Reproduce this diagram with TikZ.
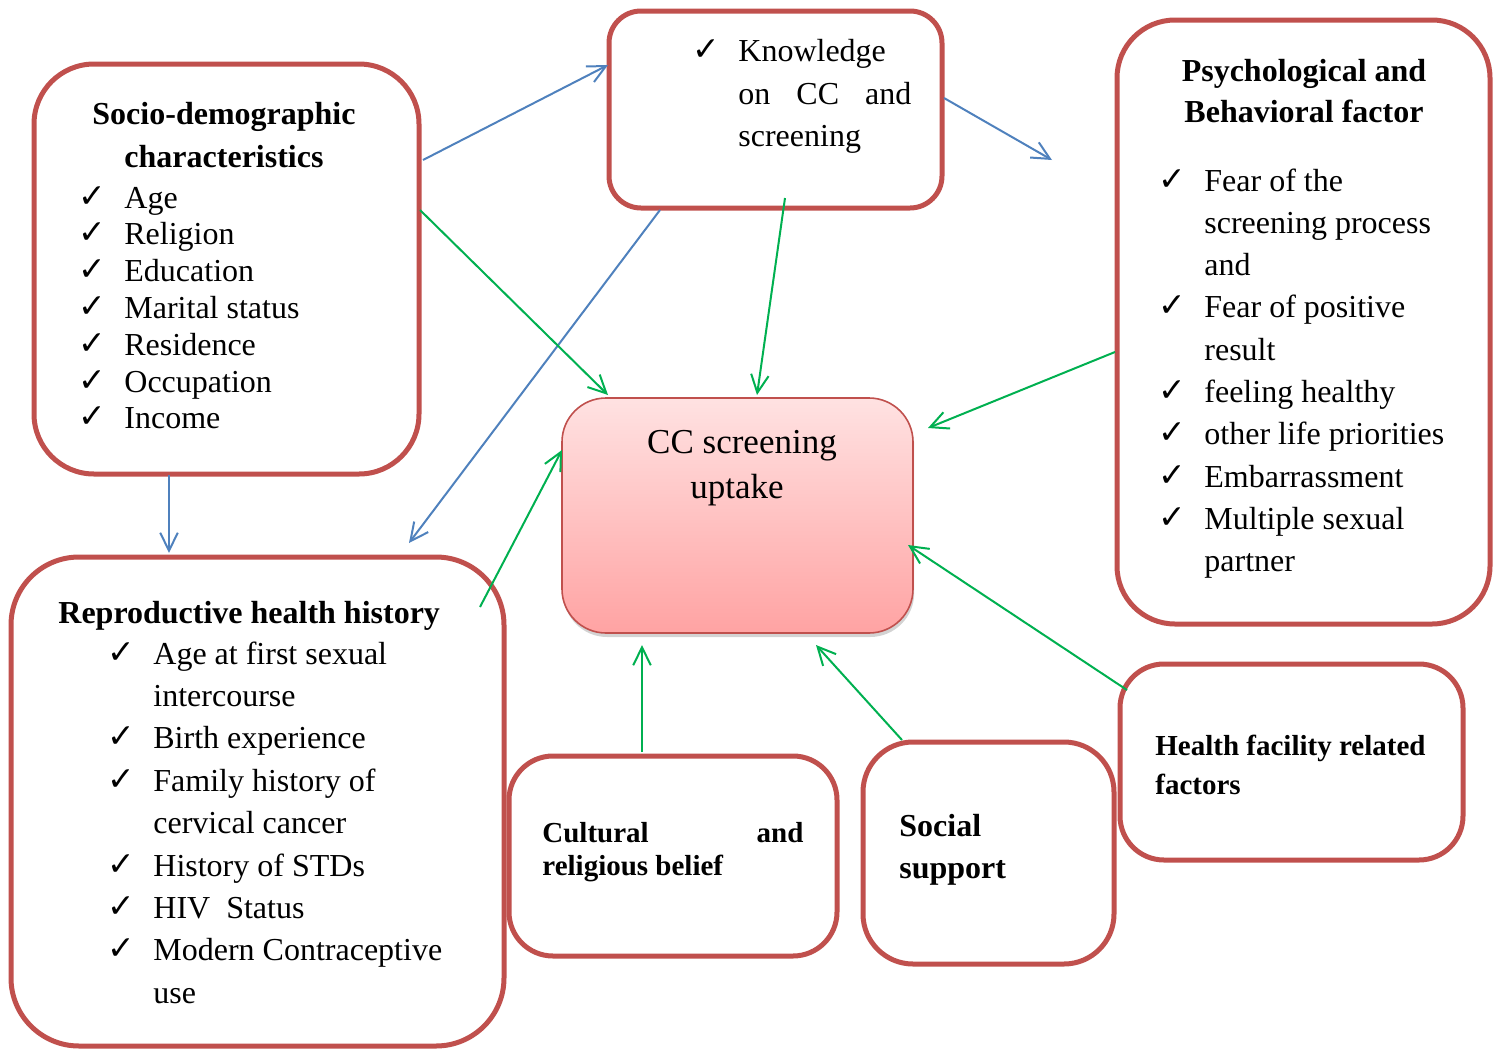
\documentclass[tikz,border=0pt]{standalone}
\usepackage{fontspec}
\setmainfont{Liberation Serif}
\newfontfamily\symfont{DejaVu Sans}
\usetikzlibrary{arrows.meta,fit,shadows,calc}
\definecolor{boxred}{HTML}{C0504D}
\definecolor{arrblue}{HTML}{4F81BD}
\definecolor{arrgreen}{HTML}{00B050}
\definecolor{toppink}{HTML}{FFE2E2}
\definecolor{botpink}{HTML}{FFA3A3}
\newcommand\ck{\makebox[23pt][l]{\raisebox{0.5pt}{\symfont\bfseries\fontsize{16.5}{16}\selectfont ✓}}}
\newcommand\noc{\hspace*{23pt}}
\begin{document}
\begin{tikzpicture}[x=0.5pt,y=-0.5pt,
  rbox/.style={draw=boxred, line width=2.5pt, inner sep=0pt, outer sep=0pt, rounded corners=#1},
  item/.style={anchor=base west, inner sep=0pt, font=\fontsize{16}{19}\selectfont},
  btitle/.style={anchor=base, inner sep=0pt, font=\fontsize{16}{19}\selectfont\bfseries},
  bleft/.style={anchor=base west, inner sep=0pt, font=\fontsize{16}{19}\selectfont\bfseries},
  bsmall/.style={anchor=base west, inner sep=0pt, font=\fontsize{14.5}{17}\selectfont\bfseries},
  ctext/.style={anchor=base, inner sep=0pt, font=\fontsize{17.5}{21}\selectfont},
  barrow/.style={draw=arrblue, line width=1pt, -{Straight Barb[angle=52:10pt]}},
  garrow/.style={draw=arrgreen, line width=1pt, -{Straight Barb[angle=52:10pt]}},
]
\useasboundingbox (0,0) rectangle (1495,1050);

% boxes
\node[rbox=30pt, fit={(34,64) (419,474)}] (socio) {};
\node[rbox=16pt, fit={(609,11) (942,208)}] (know) {};
\node[rbox=29pt, fit={(1117,20) (1490,624)}] (psych) {};
\node[rbox=34pt, fit={(11,557) (504,1046)}] (rep) {};
\node[rbox=22pt, fit={(509,756) (837,956)}] (cult) {};
\node[rbox=25pt, fit={(863,742) (1114,964)}] (social) {};
\node[rbox=22pt, fit={(1120,664) (1463,860)}] (health) {};
\node[draw=boxred, line width=0.8pt, rounded corners=22pt, inner sep=0pt, outer sep=0pt,
      top color=toppink, bottom color=botpink,
      drop shadow={shadow xshift=0.6pt, shadow yshift=-2pt, opacity=0.35},
      fit={(562,398) (913,633)}] (center) {};

% socio-demographic text
\node[btitle] (socioT1) at (224,124) {Socio-demographic};
\node[btitle] (socioT2) at (224,167) {characteristics};
\foreach \t [count=\i from 0] in {Age,Religion,Education,Marital status,Residence,Occupation,Income}
  \node[item, name=socio-item-\i] at (78, 208+36.8*\i) {\ck\t};

% knowledge text
\node[item] (know1) at (692,61) {\ck Knowledge};
\node[item] (know2) at (692,104) {\noc\makebox[86.5pt][s]{on\hfill CC\hfill and}};
\node[item] (know3) at (692,146) {\noc screening};

% psychological text
\node[btitle] (psyT1) at (1304,81) {Psychological and};
\node[btitle] (psyT2) at (1304,122) {Behavioral factor};
\foreach \c/\t [count=\i from 0] in {1/Fear of the,0/screening process,0/and,1/Fear of positive,0/result,1/feeling healthy,1/other life priorities,1/Embarrassment,1/Multiple sexual,0/partner}
  \node[item, name=psy-item-\i] at (1158, 191+42.33*\i) {\ifnum\c=1 \ck\else\noc\fi\t};

% reproductive text
\node[bleft] (repT) at (58,623) {Reproductive health history};
\foreach \c/\t [count=\i from 0] in {1/Age at first sexual,0/intercourse,1/Birth experience,1/Family history of,0/cervical cancer,1/History of STDs,1/HIV\ \ Status,1/Modern Contraceptive,0/use}
  \node[item, name=rep-item-\i] at (107, 664+42.4*\i) {\ifnum\c=1 \ck\else\noc\fi\t};

% bottom boxes text
\node[bsmall] (cult1) at (542,842) {\makebox[130.5pt][s]{Cultural\hfill and}};
\node[bsmall] (cult2) at (542,875) {religious belief};
\node[bleft] (social1) at (899,836) {Social};
\node[bleft] (social2) at (899,878) {support};
\node[bsmall] (health1) at (1155,755) {Health facility related};
\node[bsmall] (health2) at (1155,794) {factors};

% center text
\node[ctext] (centerT1) at (742,453) {CC screening};
\node[ctext] (centerT2) at (737,498) {uptake};

% free end
\coordinate (psychgap) at (1052,160);

% blue arrows
\draw[barrow] ([shift={(4,96)}]socio.north east) -- ([shift={(-1,54)}]know.north west);
\draw[barrow] ([shift={(2,87)}]know.north east) -- (psychgap);
\draw[barrow] ([shift={(135,1)}]socio.south west) -- ([shift={(158,-4)}]rep.north west);
\draw[barrow] ([shift={(51,2)}]know.south west) -- ([shift={(398,-14)}]rep.north west);

% green arrows
\draw[garrow] ([shift={(1,146)}]socio.north east) -- ([shift={(46,-3)}]center.north west);
\draw[garrow] ([shift={(176,-10)}]know.south west) -- ([shift={(195,-3)}]center.north west);
\draw[garrow] ([shift={(-2,332)}]psych.north west) -- ([shift={(15,30)}]center.north east);
\draw[garrow] ([shift={(-24,50)}]rep.north east) -- ([shift={(0,52)}]center.north west);
\draw[garrow] ([shift={(133,-4)}]cult.north west) -- ([shift={(80,12)}]center.south west);
\draw[garrow] ([shift={(39,-2)}]social.north west) -- ([shift={(254,12)}]center.south west);
\draw[garrow] ([shift={(7,26)}]health.north west) -- ([shift={(-5,147)}]center.north east);
\end{tikzpicture}
\end{document}
